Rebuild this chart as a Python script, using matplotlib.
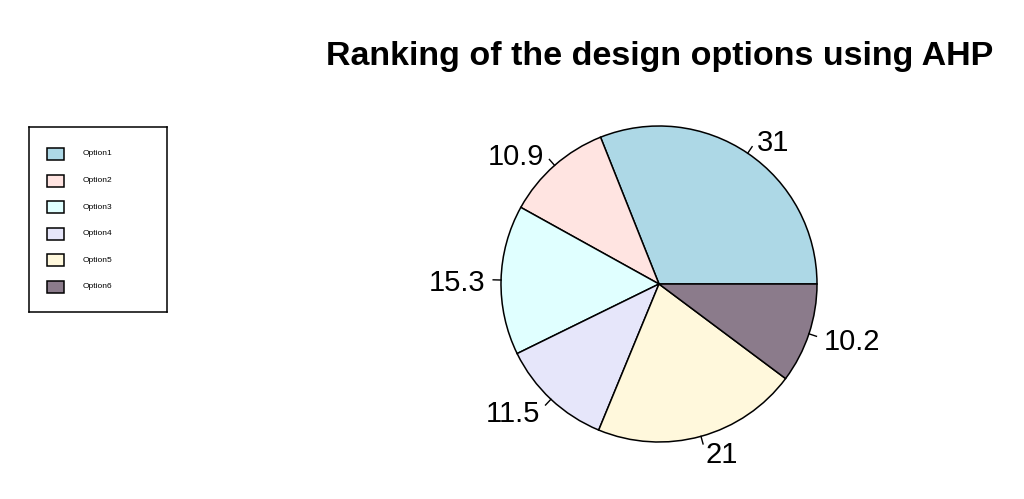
import numpy as np
import matplotlib
matplotlib.use("Agg")
import matplotlib.pyplot as plt
from matplotlib.patches import Rectangle

plt.rcParams["font.family"] = ["Liberation Sans", "DejaVu Sans"]

# chart data
options = ["Option1", "Option2", "Option3", "Option4", "Option5", "Option6"]
scores = [31, 10.9, 15.3, 11.5, 21, 10.2]
score_labels = ["31", "10.9", "15.3", "11.5", "21", "10.2"]
colors = ["#ADD8E6", "#FFE4E1", "#E0FFFF", "#E6E6FA", "#FFF8DC", "#8B7B8B"]

W, H = 1024, 499
fig = plt.figure(figsize=(W / 100, H / 100), dpi=100)

# pie in pixel coordinates
cx, cy, r = 659, H - 284, 158
ax = fig.add_axes([0, 0, 1, 1])
wedges, texts = ax.pie(scores, labels=score_labels, colors=colors, startangle=0,
                       counterclock=True, center=(cx, cy), radius=r,
                       labeldistance=1.1, frame=True,
                       wedgeprops=dict(edgecolor="black", linewidth=1.1),
                       textprops=dict(fontsize=21))
ax.set_xlim(0, W)
ax.set_ylim(0, H)
ax.set_aspect("equal")
ax.axis("off")

# small tick marks from the rim towards each label (as in R's pie)
bounds = np.concatenate([[0], np.cumsum(scores)]) / np.sum(scores)
mids = (bounds[:-1] + bounds[1:]) / 2 * 2 * np.pi
for a, t in zip(mids, texts):
    ax.plot([cx + r * np.cos(a), cx + 1.05 * r * np.cos(a)],
            [cy + r * np.sin(a), cy + 1.05 * r * np.sin(a)],
            color="black", lw=1)
    # align labels away from the centre like R does
    t.set_ha("left" if np.cos(a) > 0 else "right")
    t.set_va("center_baseline")

fig.text(660 / W, 1 - 57 / H, "Ranking of the design options using AHP",
         ha="center", va="center", fontsize=24.5, fontweight="bold")

# legend box
lx0, ly0, lw, lh = 29, 127, 138, 185
lax = fig.add_axes([lx0 / W, 1 - (ly0 + lh) / H, lw / W, lh / H])
lax.set_xlim(0, lw)
lax.set_ylim(lh, 0)
lax.set_xticks([])
lax.set_yticks([])
for s in lax.spines.values():
    s.set_color("black")
    s.set_linewidth(1.1)
for i, (name, col) in enumerate(zip(options, colors)):
    yc = 27 + 26.6 * i
    lax.add_patch(Rectangle((18, yc - 6), 17, 12, facecolor=col,
                            edgecolor="black", linewidth=1.1))
    lax.text(54, yc, name, fontsize=6, va="center", ha="left")

fig.savefig("out.png", dpi=100)
